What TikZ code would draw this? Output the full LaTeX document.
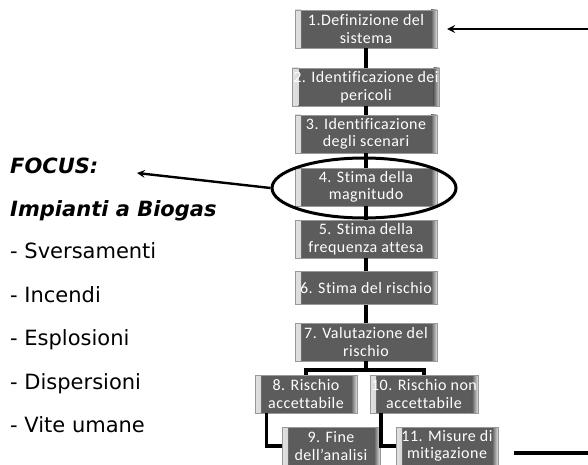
\documentclass[tikz,border=0pt]{standalone}
\usepackage{fontspec}
\setmainfont[Ligatures=NoCommon, LetterSpace=3]{Carlito}
\newfontfamily\dejavu{DejaVu Sans}
\usetikzlibrary{shapes,arrows,positioning,calc}

\begin{document}
\begin{tikzpicture}[x=1pt, y=-1pt,
  fase/.style={draw=black!40, fill=black!64, rectangle, text=white, align=center,
    minimum width=142pt, minimum height=38pt, inner sep=1pt,
    font=\fontsize{16}{17.5}\selectfont,
    path picture={
      \shade[left color=black!12, right color=black!64]
        (path picture bounding box.north west) rectangle ([xshift=6pt]path picture bounding box.south west);
      \shade[left color=black!64, right color=black!12]
        ([xshift=-6pt]path picture bounding box.north east) rectangle (path picture bounding box.south east);
    }},
  esito/.style={fase, minimum width=102pt},
  conn/.style={line width=3.2pt},
  ptr/.style={->, >=stealth, line width=2.4pt},
  voce/.style={anchor=base west, inner sep=0pt, font=\dejavu\fontsize{21}{25}\selectfont}
]
\useasboundingbox (0,0) rectangle (588,465);

% colonna delle fasi
\node[fase] (b1) at (366,29) {1.Definizione del\\sistema};
\node[fase] (b2) at (366,87) {2. Identificazione dei\\pericoli};
\node[fase] (b3) at (366,134) {3. Identificazione\\degli scenari};
\node[fase] (b4) at (366,187) {4. Stima della\\magnitudo};
\node[fase] (b5) at (366,239) {5. Stima della\\frequenza attesa};
\node[fase, minimum height=33pt] (b6) at (366,288) {6. Stima del rischio};
\node[fase] (b7) at (366,342) {7. Valutazione del\\rischio};
\node[esito] (b8) at (306,394) {8. Rischio\\accettabile};
\node[esito] (b10) at (424,394) {10. Rischio non\\accettabile};
\node[esito, minimum width=98pt] (b9) at (331,446) {9. Fine\\dell'analisi};
\node[esito] (b11) at (447,446) {11. Misure di\\mitigazione};

\draw[conn] (b1) -- (b2);
\draw[conn] (b2) -- (b3);
\draw[conn] (b3) -- (b4);
\draw[conn] (b4) -- (b5);
\draw[conn] (b5) -- (b6);
\draw[conn] (b6) -- (b7);
\coordinate (split) at (366,370);
\draw[conn] (b7.south) -- (split);
\draw[conn] (b8.north) |- (split) -| (b10.north);
\draw[conn] ([xshift=12pt]b8.south west) |- (b9.west);
\draw[conn] ([xshift=11pt]b10.south west) |- (b11.west);

% focus
\node[draw, ellipse, line width=3pt, minimum width=184pt, minimum height=60pt] (cerchio) at (364,188) {};
\node[voce, font=\dejavu\bfseries\itshape\fontsize{21}{25}\selectfont] (focus) at (10,173) {FOCUS:};
\node[voce, font=\dejavu\bfseries\itshape\fontsize{21}{25}\selectfont] (impianti) at (10,216) {Impianti a Biogas};
\coordinate (punta) at (137,173);
\draw[ptr] (cerchio.west) -- (punta);

\node[voce] (v1) at (10,258) {- Sversamenti};
\node[voce] (v2) at (10,302) {- Incendi};
\node[voce] (v3) at (10,345) {- Esplosioni};
\node[voce] (v4) at (10,389) {- Dispersioni};
\node[voce] (v5) at (10,432) {- Vite umane};

% ingresso e uscita
\coordinate (ingresso) at (588,29);
\draw[ptr] (ingresso) -- ([xshift=10pt]b1.east);
\coordinate (uscitaA) at (514,453);
\coordinate (uscitaB) at (588,453);
\draw[conn] (uscitaA) -- (uscitaB);
\end{tikzpicture}
\end{document}
